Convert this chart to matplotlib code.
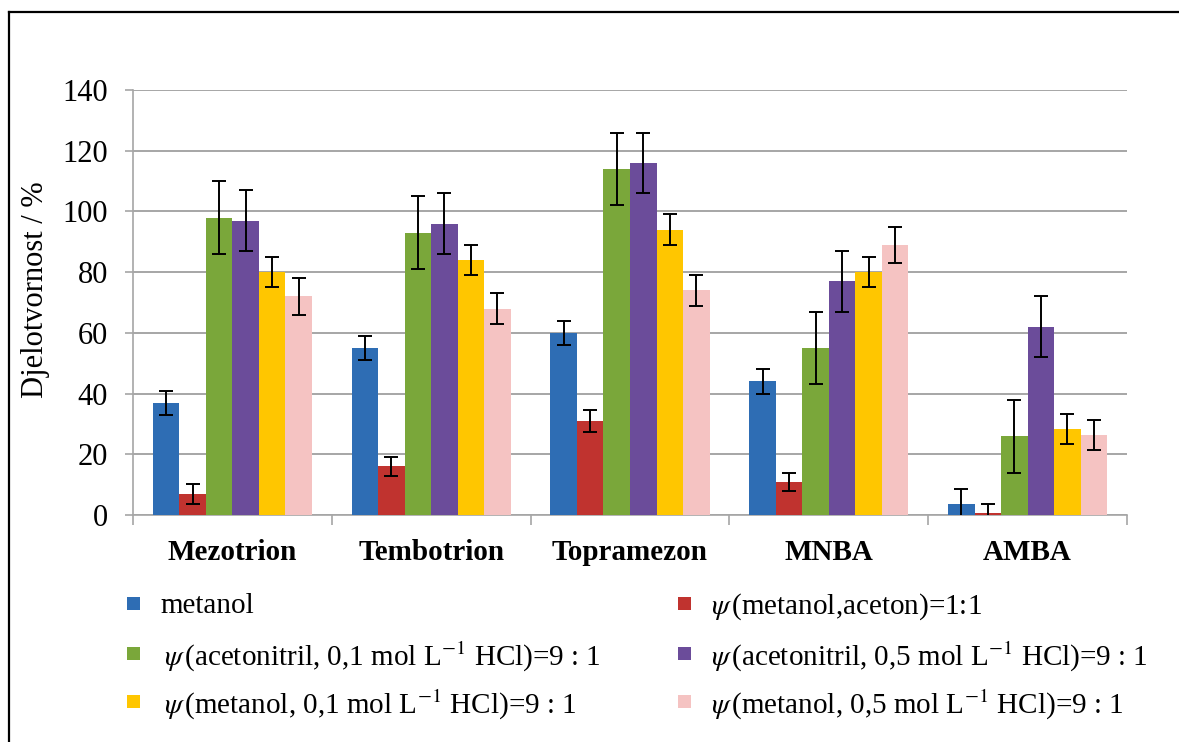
import matplotlib
matplotlib.use("Agg")
import matplotlib.pyplot as plt
import numpy as np
from matplotlib.patches import Rectangle
from matplotlib.lines import Line2D

plt.rcParams['font.family'] = ['Liberation Serif', 'DejaVu Serif']
plt.rcParams['mathtext.fontset'] = 'stix'

categories = ['Mezotrion', 'Tembotrion', 'Topramezon', 'MNBA', 'AMBA']
series_labels = [
    'metanol',
    r'$\psi\,$(metanol,aceton)=1:1',
    r'$\psi\,$(acetonitril, 0,1 mol L$^{-1}$ HCl)=9 : 1',
    r'$\psi\,$(acetonitril, 0,5 mol L$^{-1}$ HCl)=9 : 1',
    r'$\psi\,$(metanol, 0,1 mol L$^{-1}$ HCl)=9 : 1',
    r'$\psi\,$(metanol, 0,5 mol L$^{-1}$ HCl)=9 : 1',
]
values = [
    [37, 55, 60, 44, 3.6],      # metanol
    [7, 16, 31, 11, 0.7],       # metanol, aceton
    [98, 93, 114, 55, 26],      # acetonitril 0.1
    [97, 96, 116, 77, 62],      # acetonitril 0.5
    [80, 84, 94, 80, 28.4],     # metanol 0.1
    [72, 68, 74, 89, 26.3],     # metanol 0.5
]
errors = [
    [4, 4, 4, 4, 5],
    [3.3, 3, 3.5, 3, 3],
    [12, 12, 12, 12, 12],
    [10, 10, 10, 10, 10],
    [5, 5, 5, 5, 5],
    [6, 5, 5, 6, 5],
]
colors = ['#2E6DB4', '#C0332F', '#7AA73A', '#6B4C9A', '#FFC600', '#F5C3C2']

W, H = 1179, 742
fig = plt.figure(figsize=(W / 100, H / 100), dpi=100)
ax = fig.add_axes([133 / W, 1 - 515 / H, (1127 - 133) / W, (515 - 90) / H])

n = len(values)
width = 0.8 / n
x = np.arange(len(categories))
for i in range(n):
    pos = x - 0.4 + width * (i + 0.5)
    ax.bar(pos, values[i], width=width, color=colors[i], edgecolor='none', zorder=3)
    ax.errorbar(pos, values[i], yerr=errors[i], fmt='none', ecolor='black',
                elinewidth=1.4, capsize=5, capthick=1.4, zorder=4)

ax.set_xlim(-0.5, len(categories) - 0.5)
ax.set_ylim(0, 140)
ax.set_yticks(np.arange(0, 141, 20))
ax.yaxis.grid(True, color='#A6A6A6', linewidth=1.4, zorder=0)
ax.set_axisbelow(True)
ax.set_xticks(x)
ax.set_xticklabels(categories, fontsize=21, fontweight='bold')
ax.set_xticks(np.arange(-0.5, len(categories)), minor=True)
ax.tick_params(axis='x', which='major', length=0, pad=17)
ax.tick_params(axis='x', which='minor', length=7, color='#A6A6A6', width=1.2)
ax.tick_params(axis='y', labelsize=22, length=6, color='#A6A6A6', width=1.2, pad=12)
for s in ['top', 'right']:
    ax.spines[s].set_visible(False)
for s in ['left', 'bottom']:
    ax.spines[s].set_color('#A6A6A6')
    ax.spines[s].set_linewidth(1.2)
ax.set_ylabel('Djelotvornost / %', fontsize=22)
ax.yaxis.set_label_coords((50 - 133) / (1127 - 133), (515 - 290) / (515 - 90))

# legend, laid out as in the reference (2 columns x 3 rows, row-wise order)
col_marker_x = [133, 684]
col_text_x = [160, 707]
row_y = [603, 653, 701]
msz = 13
for i, lab in enumerate(series_labels):
    r, c = divmod(i, 2)
    mx, my = col_marker_x[c], row_y[r]
    fig.patches.append(Rectangle(((mx - msz / 2) / W, 1 - (my + msz / 2) / H),
                                 msz / W, msz / H, transform=fig.transFigure,
                                 facecolor=colors[i], edgecolor='none'))
    tx = col_text_x[c] + (0 if i == 0 else 4)
    fig.text(tx / W, 1 - my / H, lab, fontsize=21, ha='left', va='center_baseline')

# frame lines (left and top edges of the picture border)
fig.add_artist(Line2D([9 / W, 9 / W], [0, 1 - 12 / H], transform=fig.transFigure,
                      color='black', linewidth=1.6))
fig.add_artist(Line2D([9 / W, 1], [1 - 12 / H, 1 - 12 / H], transform=fig.transFigure,
                      color='black', linewidth=1.6))

fig.savefig('out.png', dpi=100)
